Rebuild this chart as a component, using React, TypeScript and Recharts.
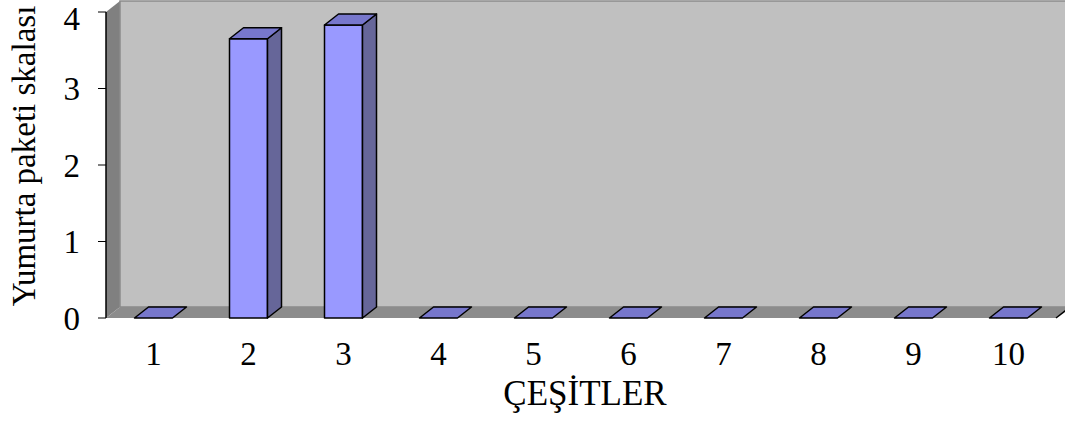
import { BarChart, Bar, XAxis, YAxis, ReferenceArea } from 'recharts';

const categories = ['1', '2', '3', '4', '5', '6', '7', '8', '9', '10'];
const scaleValues = [0, 3.65, 3.83, 0, 0, 0, 0, 0, 0, 0];
const yTicks = [0, 1, 2, 3, 4];
const edgeTicks = [0, 1, 2, 3, 4, 5, 6, 7, 8, 9, 10];

const data = categories.map((name, i) => ({ name, value: scaleValues[i] }));

const FONT = '"Times New Roman", "Liberation Serif", serif';
// depth offset of the pseudo-3D box
const DX = 14;
const DY = -11;

const Walls = (props: any) => {
  const { x, y, width, height } = props;
  const b = y + height;
  const r = x + width;
  return (
    <g>
      <polygon points={`${x},${y} ${x + DX},${y + DY} ${x + DX},${b + DY} ${x},${b}`} fill="#808080" />
      <rect x={x + DX} y={y + DY} width={width} height={height} fill="#C0C0C0" stroke="#8a8a8a" strokeWidth={1.5} />
      <polygon points={`${x},${b} ${x + DX},${b + DY} ${r + DX},${b + DY} ${r},${b}`} fill="#8c8c8c" />
      <line x1={r} y1={b} x2={r + DX} y2={b + DY} stroke="#000" strokeWidth={1.5} />
    </g>
  );
};

const Bar3D = (props: any) => {
  const { x, y, width, height } = props;
  const b = y + height;
  const r = x + width;
  const edge = { stroke: '#000', strokeWidth: 1.5, strokeLinejoin: 'round' as const };
  return (
    <g>
      {height > 0 && (
        <>
          <rect x={x} y={y} width={width} height={height} fill="#9999FF" {...edge} />
          <polygon points={`${r},${y} ${r + DX},${y + DY} ${r + DX},${b + DY} ${r},${b}`} fill="#666699" {...edge} />
        </>
      )}
      <polygon points={`${x},${y} ${x + DX},${y + DY} ${r + DX},${y + DY} ${r},${y}`} fill="#7777CC" {...edge} />
    </g>
  );
};

const YTitle = () => (
  <text
    transform="translate(35,156) rotate(-90)"
    textAnchor="middle"
    fontFamily={FONT}
    fontSize={33}
    fill="#000"
  >
    Yumurta paketi skalası
  </text>
);

const XTitle = () => (
  <text x={585} y={405} textAnchor="middle" fontFamily={FONT} fontSize={35} fill="#000">
    ÇEŞİTLER
  </text>
);

const tickFont = { fontFamily: FONT, fontSize: 33, fill: '#000' };

export default function App() {
  return (
    <div style={{ position: 'absolute', left: 0, top: 0, width: 1065, height: 423, background: '#fff' }}>
      <BarChart width={1065} height={423} data={data} margin={{ top: 12, right: 9, left: 0, bottom: 0 }} barCategoryGap="30%">
        <XAxis
          xAxisId="edges"
          type="number"
          domain={[0, 10]}
          ticks={edgeTicks}
          height={0}
          tickSize={8}
          tick={() => <g />}
          axisLine={{ stroke: '#000', strokeWidth: 1.5 }}
          tickLine={{ stroke: '#000' }}
        />
        <XAxis
          xAxisId="cat"
          dataKey="name"
          height={105}
          axisLine={false}
          tickLine={false}
          tickSize={0}
          tickMargin={24}
          tick={tickFont}
          interval={0}
          label={{ content: XTitle }}
        />
        <YAxis
          width={106}
          domain={[0, 4]}
          ticks={yTicks}
          tickSize={8}
          tickMargin={18}
          tick={tickFont}
          axisLine={{ stroke: '#000', strokeWidth: 1.5 }}
          tickLine={{ stroke: '#000' }}
          label={{ content: YTitle }}
        />
        <ReferenceArea xAxisId="edges" y1={0} y2={4} shape={Walls} ifOverflow="visible" />
        <Bar xAxisId="cat" dataKey="value" shape={Bar3D} isAnimationActive={false} />
      </BarChart>
    </div>
  );
}
